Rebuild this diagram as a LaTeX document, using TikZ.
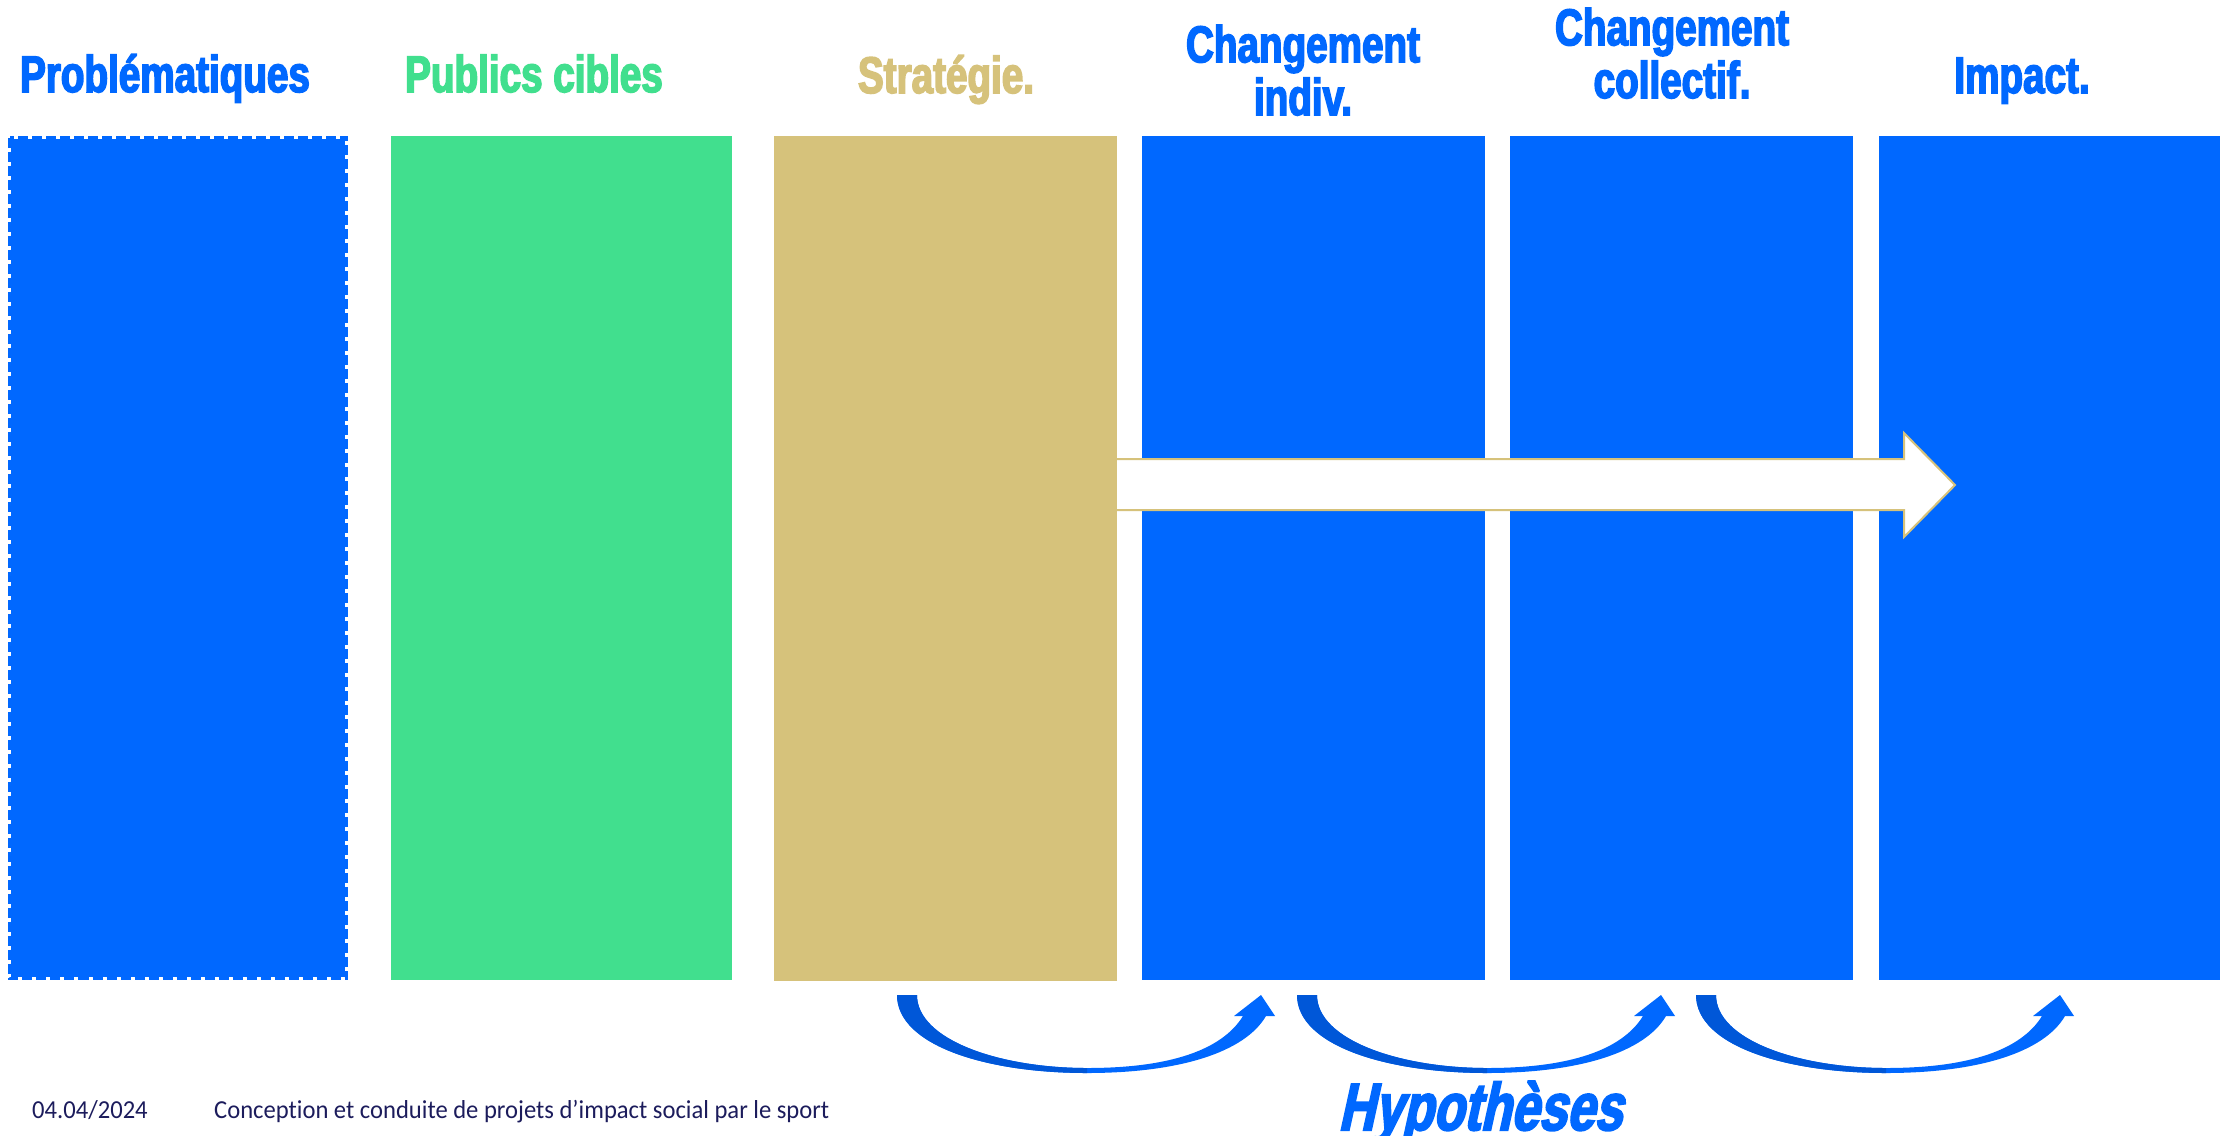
\documentclass[tikz,border=0pt]{standalone}
\usepackage{fontspec}
\usetikzlibrary{calc}
\setmainfont{Carlito}
\newfontfamily\titlefont[FakeStretch=0.75,FakeBold=3]{Liberation Sans}
\newfontfamily\hypfont[FakeStretch=0.75,FakeSlant=0.22,FakeBold=3]{Liberation Sans}
\newfontfamily\footfont[FakeStretch=0.95,Ligatures=NoCommon]{Carlito}
\definecolor{cblue}{HTML}{0068FF}
\definecolor{cdark}{HTML}{0057D8}
\definecolor{cgreen}{HTML}{41DF8E}
\definecolor{ctan}{HTML}{D6C27B}
\definecolor{cnavy}{HTML}{1C1C5C}
\begin{document}
\begin{tikzpicture}[x=1bp,y=-1bp,
  box/.style={draw=none, inner sep=0pt, outer sep=0pt, anchor=north west, minimum height=844bp},
  title/.style={anchor=base, align=center, inner sep=0pt, font=\titlefont\bfseries\fontsize{51.7}{53}\selectfont},
  foot/.style={anchor=base west, inner sep=0pt, text=cnavy, font=\footfont\fontsize{26}{30}\selectfont},
  hyparrow/.style={fill=cblue},
  hypshade/.style={fill=cdark},
  bigarrow/.style={draw=ctan, line width=2bp, fill=white, line join=miter}
]
\useasboundingbox[fill=white] (0,0) rectangle (2236,1135);

% titles (base anchor = baseline of the last line)
\node[title, text=cblue]  (t1) at (165,92)  {Problématiques};
\node[title, text=cgreen] (t2) at (534,92)  {Publics cibles};
\node[title, text=ctan]   (t3) at (946,93)  {Stratégie.};
\node[title, text=cblue]  (t4) at (1303,115) {Changement\\indiv.};
\node[title, text=cblue]  (t5) at (1672,98) {Changement\\collectif.};
\node[title, text=cblue]  (t6) at (2022,93) {Impact.};

% boxes
\node[box, minimum width=340bp] (b1) at (8,136) {};
\fill[cblue] ([shift={(3,3)}]b1.north west) rectangle ([shift={(-3,-3)}]b1.south east);
\draw[cblue, line width=3bp, dash pattern=on 10bp off 4bp] ([shift={(1.5,1.5)}]b1.north west) rectangle ([shift={(-1.5,-1.5)}]b1.south east);
\node[box, fill=cgreen, minimum width=341bp] (b2) at (391,136) {};
\node[box, fill=cblue,  minimum width=343bp] (b4) at (1142,136) {};
\node[box, fill=cblue,  minimum width=343bp] (b5) at (1510,136) {};
\node[box, fill=cblue,  minimum width=341bp] (b6) at (1879,136) {};

% big arrow
\coordinate (aT) at (1100,485);
\coordinate (aH) at (1955,485);
\draw[bigarrow] ($(aT)+(0,-26)$) -- ($(aH)+(-51,-26)$) -- ($(aH)+(-51,-52)$) -- (aH)
  -- ($(aH)+(-51,52)$) -- ($(aH)+(-51,25)$) -- ($(aT)+(0,25)$) -- cycle;

\node[box, fill=ctan, minimum width=343bp, minimum height=845bp] (b3) at (774,136) {};

% curved arrows (hypotheses)
\foreach \dx in {0,400,799} {
  \begin{scope}[xshift=\dx bp]
    \fill[hyparrow] (897,995) .. controls (897,1045) and (985,1073) .. (1087,1073)
      .. controls (1180,1073) and (1245,1052) .. (1266,1016)
      -- (1275,1016) -- (1261,995) -- (1234,1016) -- (1243,1016)
      .. controls (1222,1050) and (1170,1068) .. (1087,1068)
      .. controls (1000,1068) and (917,1040) .. (917,995) -- cycle;
    \fill[hypshade] (897,995) .. controls (897,1045) and (985,1073) .. (1087,1073)
      -- (1087,1068) .. controls (1000,1068) and (917,1040) .. (917,995) -- cycle;
  \end{scope}
}

\node[anchor=base west, inner sep=0pt, text=cblue, font=\hypfont\bfseries\fontsize{67}{70}\selectfont] (hyp) at (1338,1130) {Hypothèses};

% footer
\node[foot] (date) at (32,1118) {04.04/2024};
\node[foot] (conf) at (214,1118) {Conception et conduite de projets d’impact social par le sport};
\end{tikzpicture}
\end{document}
